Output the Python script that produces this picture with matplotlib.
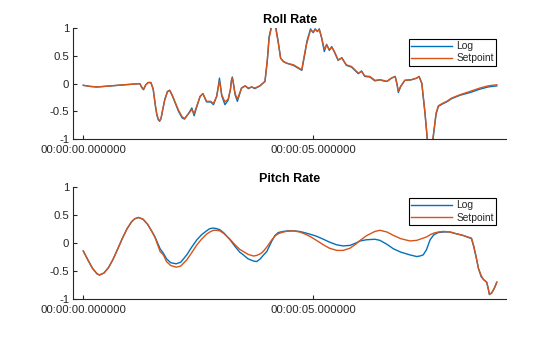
import matplotlib
matplotlib.use("Agg")
import matplotlib.pyplot as plt

plt.rcParams['font.family'] = ['Liberation Sans', 'DejaVu Sans']

# ---------------- data ----------------
roll_t = [0.0, 0.15, 0.3, 0.6, 0.9, 1.23, 1.27, 1.31, 1.36, 1.41, 1.47, 1.52, 1.57, 1.6, 1.63,
          1.66, 1.69, 1.72, 1.77, 1.83, 1.88, 1.93, 1.98, 2.07, 2.15, 2.2, 2.28, 2.36, 2.41, 2.47,
          2.54, 2.6, 2.68, 2.77, 2.83, 2.9, 2.94, 2.96, 2.98, 3.01, 3.08, 3.15, 3.2, 3.22, 3.24, 3.26, 3.3, 3.35,
          3.44, 3.52, 3.59, 3.66, 3.73, 3.84, 3.95, 4.0, 4.04, 4.08, 4.145, 4.19, 4.24, 4.29,
          4.35, 4.42, 4.57, 4.75, 4.82, 4.86, 4.94, 5.0, 5.04, 5.09, 5.13, 5.18, 5.24, 5.29,
          5.35, 5.4, 5.46, 5.54, 5.62, 5.72, 5.83, 5.98, 6.05, 6.12, 6.23, 6.34, 6.45, 6.52,
          6.6, 6.7, 6.78, 6.82, 6.85, 6.9, 6.99, 7.13, 7.25, 7.3, 7.36, 7.43, 7.48, 7.54, 7.6,
          7.67, 7.72, 7.8, 7.9, 8.01, 8.19, 8.41, 8.62, 8.8, 8.99]
roll_setpoint = [-0.03, -0.05, -0.06, -0.04, -0.02, 0.0, -0.06, -0.1, -0.02, 0.02, 0.02, -0.1, -0.4, -0.55, -0.64,
                 -0.67, -0.63, -0.5, -0.3, -0.15, -0.12, -0.2, -0.3, -0.48, -0.6, -0.63, -0.55, -0.47, -0.54, -0.4,
                 -0.23, -0.18, -0.32, -0.32, -0.36, -0.23, -0.05, 0.05, -0.04, -0.2, -0.33, -0.28, -0.1, 0.04, 0.1, 0.02, -0.18, -0.28,
                 -0.08, -0.04, -0.08, -0.06, -0.08, -0.04, 0.04, 0.43, 0.82, 0.97, 1.3, 0.97, 0.73, 0.46,
                 0.4, 0.37, 0.34, 0.25, 0.58, 0.73, 0.97, 0.93, 0.98, 0.95, 0.98, 0.84, 0.62, 0.7,
                 0.61, 0.66, 0.58, 0.43, 0.46, 0.34, 0.31, 0.19, 0.22, 0.14, 0.13, 0.06, 0.07, 0.06,
                 0.04, 0.1, 0.13, 0.0, -0.14, -0.05, 0.06, 0.07, 0.1, 0.13, 0.01, -0.53, -1.0, -1.4, -1.0,
                 -0.53, -0.4, -0.36, -0.32, -0.26, -0.2, -0.14, -0.08, -0.04, -0.02]
roll_log = [-0.03, -0.05, -0.06, -0.04, -0.02, 0.0, -0.07, -0.11, -0.02, 0.02, 0.02, -0.1, -0.42, -0.57, -0.65,
            -0.68, -0.63, -0.5, -0.29, -0.14, -0.12, -0.21, -0.31, -0.5, -0.62, -0.64, -0.55, -0.44, -0.58, -0.41,
            -0.23, -0.18, -0.33, -0.33, -0.38, -0.23, -0.02, 0.1, -0.02, -0.22, -0.38, -0.3, -0.1, 0.06, 0.12, 0.03, -0.2, -0.32,
            -0.08, -0.04, -0.09, -0.06, -0.09, -0.04, 0.04, 0.4, 0.85, 1.0, 1.32, 1.0, 0.75, 0.46,
            0.4, 0.37, 0.33, 0.24, 0.55, 0.76, 0.99, 0.92, 0.99, 0.94, 0.99, 0.83, 0.58, 0.71,
            0.6, 0.67, 0.57, 0.42, 0.47, 0.33, 0.3, 0.18, 0.23, 0.13, 0.12, 0.05, 0.07, 0.05,
            0.04, 0.1, 0.13, -0.01, -0.16, -0.05, 0.06, 0.07, 0.1, 0.13, 0.0, -0.55, -1.02, -1.42, -1.02,
            -0.55, -0.41, -0.37, -0.33, -0.27, -0.21, -0.16, -0.1, -0.06, -0.04]

pitch_t = [0.0, 0.1, 0.2, 0.3, 0.35, 0.45, 0.55, 0.65, 0.75, 0.85, 0.95, 1.05, 1.12, 1.2,
           1.3, 1.4, 1.5, 1.56, 1.67, 1.74, 1.81, 1.9, 2.02, 2.12, 2.25, 2.35, 2.47, 2.57,
           2.68, 2.75, 2.83, 2.9, 2.97, 3.06, 3.19, 3.3, 3.4, 3.48, 3.58, 3.7, 3.77, 3.85,
           3.91, 3.99, 4.1, 4.17, 4.24, 4.35, 4.45, 4.57, 4.7, 4.8, 4.93, 5.05, 5.22, 5.35,
           5.51, 5.65, 5.8, 5.92, 6.02, 6.15, 6.34, 6.45, 6.6, 6.74, 6.9, 7.1, 7.25, 7.32,
           7.39, 7.46, 7.54, 7.62, 7.72, 7.83, 7.97, 8.1, 8.25, 8.44, 8.49, 8.54, 8.59, 8.65,
           8.7, 8.77, 8.8, 8.83, 8.88, 8.94, 8.99]
pitch_setpoint = [-0.14, -0.3, -0.45, -0.55, -0.57, -0.535, -0.436, -0.285, -0.102, 0.086, 0.256, 0.383, 0.437, 0.46,
                  0.428, 0.336, 0.197, 0.1, -0.15, -0.21, -0.33, -0.4, -0.43, -0.41, -0.3, -0.18, -0.03, 0.07,
                  0.16, 0.2, 0.23, 0.23, 0.22, 0.17, 0.07, -0.03, -0.11, -0.15, -0.2, -0.23, -0.22, -0.19,
                  -0.15, -0.07, 0.06, 0.13, 0.17, 0.2, 0.215, 0.22, 0.2, 0.17, 0.12, 0.06, -0.03, -0.09,
                  -0.13, -0.13, -0.09, -0.02, 0.05, 0.13, 0.21, 0.23, 0.2, 0.14, 0.08, 0.04, 0.05, 0.07,
                  0.09, 0.11, 0.15, 0.18, 0.2, 0.21, 0.2, 0.17, 0.14, 0.09, -0.05, -0.24, -0.45, -0.58,
                  -0.65, -0.7, -0.8, -0.92, -0.89, -0.8, -0.7]
pitch_log = [-0.14, -0.3, -0.45, -0.55, -0.57, -0.535, -0.436, -0.285, -0.102, 0.086, 0.256, 0.383, 0.437, 0.46,
             0.428, 0.336, 0.197, 0.11, -0.1, -0.18, -0.28, -0.35, -0.37, -0.34, -0.21, -0.08, 0.06, 0.15,
             0.22, 0.26, 0.27, 0.26, 0.24, 0.18, 0.06, -0.06, -0.16, -0.21, -0.28, -0.32, -0.33, -0.28,
             -0.22, -0.15, 0.04, 0.14, 0.19, 0.21, 0.22, 0.22, 0.21, 0.19, 0.16, 0.13, 0.07, 0.02,
             -0.03, -0.05, -0.04, 0.0, 0.04, 0.06, 0.07, 0.05, -0.02, -0.1, -0.16, -0.21, -0.24, -0.23,
             -0.21, -0.12, 0.06, 0.15, 0.19, 0.2, 0.2, 0.17, 0.14, 0.08, -0.07, -0.25, -0.45, -0.6,
             -0.65, -0.7, -0.8, -0.92, -0.89, -0.8, -0.7]

x_ticks = [0, 5]
x_tick_labels = ["00:00:00.000000", "00:00:05.000000"]
y_ticks = [1, 0.5, 0, -0.5, -1]
y_tick_labels = ["1", "0.5", "0", "-0.5", "-1"]
titles = ["Roll Rate", "Pitch Rate"]
legend_labels = ["Log", "Setpoint"]

# ---------------- style ----------------
BLUE = "#0072BD"
ORANGE = "#D95319"
AX_COLOR = "#262626"
FS = 8.2

fig = plt.figure(figsize=(5.6, 3.37), dpi=100)
W, H = 560, 337

def make_axes(top_px, bottom_px):
    left, right = 73.3, 506
    return fig.add_axes([left / W, 1 - bottom_px / H, (right - left) / W, (bottom_px - top_px) / H])

ax1 = make_axes(28.3, 139.0)
ax2 = make_axes(187.3, 299.0)

series = [(ax1, roll_t, roll_log, roll_setpoint, titles[0]),
          (ax2, pitch_t, pitch_log, pitch_setpoint, titles[1])]

for ax, t, log, sp, title in series:
    ax.plot(t, log, color=BLUE, lw=1.0, label=legend_labels[0])
    ax.plot(t, sp, color=ORANGE, lw=1.0, label=legend_labels[1])
    ax.set_xlim(-0.217, 9.19)
    ax.set_ylim(-1, 1)
    ax.set_xticks(x_ticks)
    ax.set_xticklabels(x_tick_labels)
    ax.set_yticks(y_ticks)
    ax.set_yticklabels(y_tick_labels)
    for s in ["top", "right"]:
        ax.spines[s].set_visible(False)
    for s in ["left", "bottom"]:
        ax.spines[s].set_color(AX_COLOR)
        ax.spines[s].set_linewidth(0.8)
    ax.tick_params(direction="in", length=3, width=0.8, color=AX_COLOR,
                   labelcolor=AX_COLOR, labelsize=FS)
    ax.tick_params(axis="x", pad=4)
    ax.tick_params(axis="y", pad=3)
    ax.set_title(title, fontsize=9, fontweight="bold", color="#000000", pad=4)
    leg = ax.legend(loc="upper right", bbox_to_anchor=(0.9775, 0.905), borderaxespad=0,
                    fontsize=7.4, frameon=True, fancybox=False, framealpha=1,
                    edgecolor="#000000", handlelength=3.9, handletextpad=0.45,
                    labelspacing=0.2, borderpad=0.25)
    leg.get_frame().set_linewidth(0.8)
    for txt in leg.get_texts():
        txt.set_color(AX_COLOR)

fig.savefig("out.png", dpi=100)
